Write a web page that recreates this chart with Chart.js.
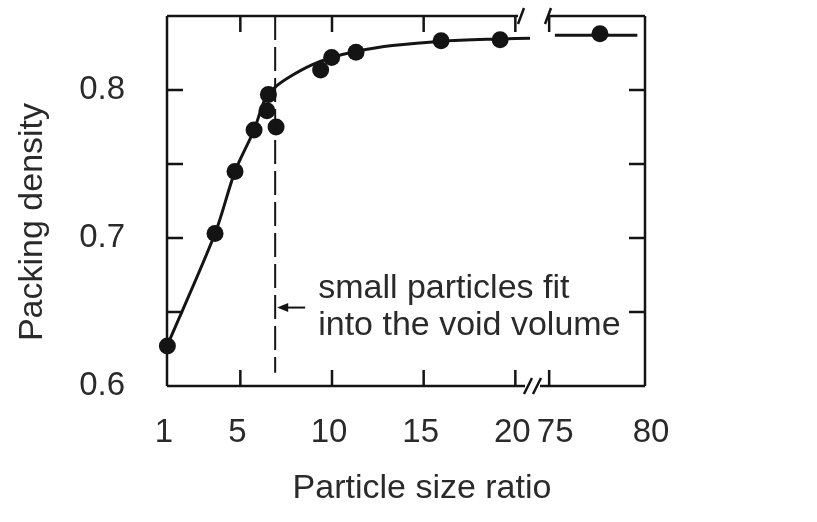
<!DOCTYPE html>
<html lang="en">
<head>
<meta charset="UTF-8">
<title>Packing density vs particle size ratio</title>
<script src="https://cdn.jsdelivr.net/npm/chart.js@4.4.1/dist/chart.umd.min.js"></script>
<style>
    html, body { margin: 0; padding: 0; background: #fff; }
    #wrap { width: 817px; height: 522px; }
</style>
</head>
<body>
<div id="wrap"><canvas id="packChart"></canvas></div>

<script>
    // measured points (left part of the axis, then the part after the break)
    var ratioLow = [1.02, 3.62, 4.71, 5.75, 6.53, 6.45, 6.95, 9.38, 9.98, 11.31, 15.95, 19.17];
    var densityLow = [0.627, 0.703, 0.745, 0.773, 0.797, 0.786, 0.775, 0.8135, 0.822, 0.8255, 0.8333, 0.834];
    var ratioHigh = [77.65];
    var densityHigh = [0.838];

    // the drawn curve
    var curveRatioLow = [1, 3.62, 4.71, 5.75, 6.35, 6.9, 7.7, 8.9, 10, 11.3, 13.3, 16, 19.2, 20.8];
    var curveDensityLow = [0.627, 0.703, 0.745, 0.773, 0.794, 0.802, 0.809, 0.817, 0.822, 0.826, 0.830, 0.833, 0.8345, 0.835];
    var curveRatioHigh = [75.3, 79.6];
    var curveDensityHigh = [0.837, 0.837];

    // dashed marker line + arrow
    var voidRatio = 6.9;
    var voidDensity = [0.85, 0.609];
    var arrowDensity = 0.653;
    var noteLines = ['small particles fit', 'into the void volume'];

    // ticks
    var ticksLow = [1, 5, 10, 15, 20];
    var ticksHigh = [75, 80];
    var densityTicks = [0.6, 0.65, 0.7, 0.75, 0.8, 0.85];
    var densityLabels = ['0.6', '', '0.7', '', '0.8', ''];

    var ink = '#141414';
    var textInk = '#2a2a2a';
    var font = '"Liberation Sans", Arial, sans-serif';

    function pairs(xs, ys) {
        return xs.map(function (x, i) { return { x: x, y: ys[i] }; });
    }

    var framePlugin = {
        id: 'frame',
        beforeDatasetsDraw: function (chart) {
            var ctx = chart.ctx, a = chart.chartArea;
            var xl = chart.scales.x, xh = chart.scales.x2, ys = chart.scales.y;
            var b = xl.right;
            var tl = 16;

            ctx.save();
            ctx.strokeStyle = ink;
            ctx.lineWidth = 2.5;
            ctx.beginPath();
            // sides
            ctx.moveTo(a.left, a.top); ctx.lineTo(a.left, a.bottom);
            ctx.moveTo(a.right, a.top); ctx.lineTo(a.right, a.bottom);
            // top and bottom with the break
            ctx.moveTo(a.left, a.top); ctx.lineTo(b - 12, a.top);
            ctx.moveTo(b + 19, a.top); ctx.lineTo(a.right, a.top);
            ctx.moveTo(a.left, a.bottom); ctx.lineTo(b - 5, a.bottom);
            ctx.moveTo(b + 10, a.bottom); ctx.lineTo(a.right, a.bottom);

            // inner ticks on x
            [xl, xh].forEach(function (sc) {
                sc.ticks.forEach(function (t) {
                    var px = sc.getPixelForValue(t.value);
                    if (px <= a.left + 1 || px >= a.right - 1) return;
                    ctx.moveTo(px, a.bottom); ctx.lineTo(px, a.bottom - tl);
                    ctx.moveTo(px, a.top); ctx.lineTo(px, a.top + tl);
                });
            });
            // inner ticks on y, both sides
            ys.ticks.forEach(function (t) {
                var py = ys.getPixelForValue(t.value);
                if (py <= a.top + 1 || py >= a.bottom - 1) return;
                ctx.moveTo(a.left, py); ctx.lineTo(a.left + tl, py);
                ctx.moveTo(a.right, py); ctx.lineTo(a.right - tl, py);
            });
            ctx.stroke();

            // break marks
            ctx.beginPath();
            [b - 9, b + 18].forEach(function (cx) {
                ctx.moveTo(cx - 3, a.top + 8); ctx.lineTo(cx + 3, a.top - 8);
            });
            [b - 2, b + 7].forEach(function (cx) {
                ctx.moveTo(cx - 4, a.bottom + 8); ctx.lineTo(cx + 4, a.bottom - 8);
            });
            ctx.stroke();

            // arrow to the dashed line
            var xv = xl.getPixelForValue(voidRatio);
            var py = ys.getPixelForValue(arrowDensity);
            ctx.lineWidth = 2;
            ctx.beginPath();
            ctx.moveTo(xv + 30, py); ctx.lineTo(xv + 9, py);
            ctx.stroke();
            ctx.fillStyle = ink;
            ctx.beginPath();
            ctx.moveTo(xv + 2, py);
            ctx.lineTo(xv + 13, py - 4.5);
            ctx.lineTo(xv + 13, py + 4.5);
            ctx.closePath();
            ctx.fill();

            // note text
            ctx.fillStyle = textInk;
            ctx.font = '34px ' + font;
            ctx.textAlign = 'left';
            ctx.textBaseline = 'alphabetic';
            ctx.fillText(noteLines[0], xv + 43, py - 10);
            ctx.fillText(noteLines[1], xv + 43, py + 27);

            // axis titles
            ctx.textAlign = 'center';
            ctx.fillText('Particle size ratio', (a.left + a.right) / 2 + 16, a.bottom + 112);
            ctx.translate(a.left - 125, (a.top + a.bottom) / 2 + 21);
            ctx.rotate(-Math.PI / 2);
            ctx.fillText('Packing density', 0, 0);
            ctx.restore();
        }
    };

    function xAxis(lo, hi, ticks, weight, offset) {
        return {
            type: 'linear',
            position: 'bottom',
            stack: 'ratio',
            stackWeight: weight,
            min: lo,
            max: hi,
            afterBuildTicks: function (sc) {
                sc.ticks = ticks.map(function (v) { return { value: v }; });
            },
            afterFit: function (sc) { sc.height = 136; },
            grid: { display: false, drawTicks: false },
            border: { display: false },
            ticks: {
                autoSkip: false,
                maxRotation: 0,
                padding: 27,
                labelOffset: offset,
                color: textInk,
                font: { family: font, size: 33 },
                callback: function (v) { return String(v); }
            }
        };
    }

    new Chart(document.getElementById('packChart'), {
        type: 'scatter',
        data: {
            datasets: [
                {
                    data: pairs(curveRatioLow, curveDensityLow),
                    xAxisID: 'x',
                    showLine: true,
                    borderColor: ink,
                    borderWidth: 3,
                    pointRadius: 0,
                    tension: 0.3,
                    clip: false
                },
                {
                    data: pairs(curveRatioHigh, curveDensityHigh),
                    xAxisID: 'x2',
                    showLine: true,
                    borderColor: ink,
                    borderWidth: 3,
                    pointRadius: 0
                },
                {
                    data: pairs([voidRatio, voidRatio], voidDensity),
                    xAxisID: 'x',
                    showLine: true,
                    borderColor: ink,
                    borderWidth: 2,
                    borderDash: [24, 7],
                    pointRadius: 0
                },
                {
                    data: pairs(ratioLow, densityLow),
                    xAxisID: 'x',
                    pointRadius: 8.5,
                    backgroundColor: ink,
                    borderWidth: 0,
                    clip: false
                },
                {
                    data: pairs(ratioHigh, densityHigh),
                    xAxisID: 'x2',
                    pointRadius: 8.5,
                    backgroundColor: ink,
                    borderWidth: 0,
                    clip: false
                }
            ]
        },
        options: {
            responsive: true,
            maintainAspectRatio: false,
            animation: false,
            layout: { padding: { top: 16, right: 172, bottom: 0, left: 0 } },
            plugins: {
                legend: { display: false },
                tooltip: { enabled: false }
            },
            scales: {
                x: xAxis(1, 20.8, ticksLow, 363, -3),
                x2: xAxis(74, 80, ticksHigh, 115, 6),
                y: {
                    type: 'linear',
                    position: 'left',
                    min: 0.6,
                    max: 0.85,
                    afterBuildTicks: function (sc) {
                        sc.ticks = densityTicks.map(function (v) { return { value: v }; });
                    },
                    afterFit: function (sc) {
                        sc.width = 167;
                        // labels sit well away from the axis; don't let that padding push the plot down
                        sc.paddingTop = 0;
                        sc.paddingBottom = 0;
                    },
                    grid: { display: false, drawTicks: false },
                    border: { display: false },
                    ticks: {
                        padding: 42,
                        color: textInk,
                        font: { family: font, size: 33 },
                        callback: function (v, i) { return densityLabels[i]; }
                    }
                }
            }
        },
        plugins: [framePlugin]
    });
</script>
</body>
</html>
